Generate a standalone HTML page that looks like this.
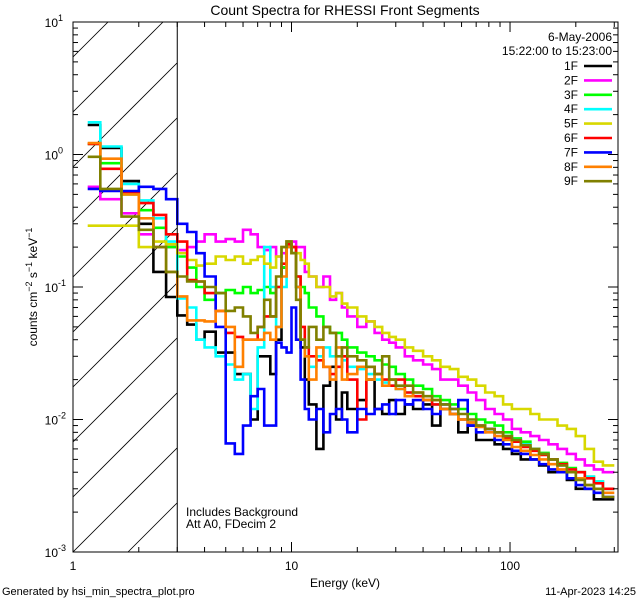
<!DOCTYPE html>
<html><head><meta charset="utf-8"><style>
html,body{margin:0;padding:0;background:#fff;width:640px;height:600px;overflow:hidden}
svg{display:block;font-family:"Liberation Sans",sans-serif;overflow:hidden}
</style></head><body>
<svg id="c" width="640" height="600">
<defs>
<clipPath id="pc"><rect x="73" y="22" width="545" height="530"/></clipPath>
<clipPath id="hc"><rect x="73" y="22" width="104" height="530"/></clipPath>
</defs>
<rect width="640" height="600" fill="#fff"/>
<g id="hatch" clip-path="url(#hc)" stroke="#000" stroke-width="0.8"></g>
<g id="series" clip-path="url(#pc)"></g>
<g id="axes"></g>
<text x="345" y="15" font-size="14" text-anchor="middle">Count Spectra for RHESSI Front Segments</text>
<text x="612" y="41" font-size="12" text-anchor="end">6-May-2006</text>
<text x="612" y="55" font-size="12" text-anchor="end">15:22:00 to 15:23:00</text>
<text x="186" y="516" font-size="12">Includes Background</text>
<text x="186" y="528" font-size="12">Att A0, FDecim 2</text>
<text x="345" y="587" font-size="12" text-anchor="middle">Energy (keV)</text>
<text transform="translate(37,287) rotate(-90)" font-size="12" text-anchor="middle">counts cm<tspan dy="-5" font-size="9">−2</tspan><tspan dy="5"> s</tspan><tspan dy="-5" font-size="9">−1</tspan><tspan dy="5"> keV</tspan><tspan dy="-5" font-size="9">−1</tspan></text>
<text x="2" y="595" font-size="11">Generated by hsi_min_spectra_plot.pro</text>
<text x="636" y="595" font-size="11" text-anchor="end">11-Apr-2023 14:25</text>
<g id="legend"></g>
</svg>
<script>
const energyEdges=[1.167,1.333,1.667,2,2.333,2.667,3,3.333,3.667,4,4.5,5,5.5,6,6.5,7,7.5,8,8.5,9,9.5,10,10.5,11,11.5,12,13,14,15,16,17,18,20,22,24,26,28,30,33,36,40,44,48,53,58,64,70,77,85,93,102,112,124,136,150,165,182,200,220,242,266,300];
const seriesNames=["1F","2F","3F","4F","5F","6F","7F","8F","9F"];
const seriesColors=["#000000","#ff00ff","#00ff00","#00ffff","#d8d800","#ff0000","#0000ff","#ff8000","#808000"];
const s1F=[1.67,1.12,0.63,0.30,0.13,0.084,0.061,0.052,0.04,0.046,0.032,0.032,0.022,0.022,0.01,0.03,0.03,0.022,0.04,0.14,0.22,0.2,0.1,0.035,0.02,0.013,0.006,0.018,0.025,0.01,0.016,0.012,0.014,0.02,0.012,0.011,0.014,0.011,0.013,0.012,0.013,0.009,0.012,0.011,0.008,0.009,0.007,0.007,0.0065,0.006,0.0055,0.005,0.005,0.0045,0.004,0.004,0.0035,0.003,0.003,0.0025,0.0025];
const s2F=[0.57,0.46,0.36,0.25,0.2,0.2,0.19,0.2,0.22,0.25,0.22,0.23,0.22,0.27,0.25,0.2,0.19,0.2,0.17,0.18,0.2,0.22,0.2,0.2,0.13,0.12,0.1,0.12,0.08,0.09,0.07,0.06,0.05,0.055,0.045,0.04,0.038,0.035,0.03,0.028,0.026,0.024,0.02,0.02,0.018,0.016,0.014,0.012,0.011,0.01,0.0085,0.008,0.0075,0.007,0.0065,0.006,0.0055,0.005,0.0045,0.0042,0.004];
const s3F=[1.2,0.86,0.5,0.38,0.28,0.2,0.17,0.14,0.1,0.08,0.09,0.095,0.09,0.1,0.09,0.095,0.1,0.09,0.1,0.14,0.2,0.18,0.12,0.1,0.09,0.07,0.06,0.05,0.045,0.045,0.04,0.035,0.032,0.03,0.028,0.026,0.025,0.022,0.02,0.018,0.017,0.015,0.014,0.013,0.012,0.011,0.01,0.0095,0.009,0.008,0.0072,0.0068,0.006,0.0056,0.005,0.0047,0.0043,0.004,0.0037,0.0034,0.003];
const s4F=[1.75,1.15,0.6,0.45,0.33,0.22,0.082,0.07,0.04,0.035,0.03,0.026,0.02,0.022,0.012,0.035,0.2,0.1,0.05,0.1,0.2,0.18,0.1,0.04,0.03,0.025,0.03,0.035,0.03,0.025,0.028,0.025,0.024,0.022,0.02,0.019,0.018,0.017,0.016,0.015,0.014,0.013,0.012,0.011,0.01,0.0095,0.009,0.0085,0.008,0.0075,0.007,0.0065,0.006,0.0055,0.005,0.0045,0.0042,0.004,0.0037,0.0034,0.003];
const s5F=[0.29,0.29,0.29,0.2,0.22,0.21,0.18,0.16,0.145,0.15,0.17,0.16,0.17,0.15,0.16,0.17,0.15,0.14,0.17,0.2,0.22,0.2,0.18,0.16,0.15,0.12,0.1,0.1,0.085,0.09,0.075,0.07,0.06,0.055,0.05,0.045,0.042,0.04,0.035,0.033,0.03,0.028,0.025,0.024,0.021,0.02,0.018,0.016,0.015,0.013,0.012,0.012,0.011,0.01,0.01,0.009,0.0085,0.0075,0.006,0.0048,0.0045];
const s6F=[1.2,0.78,0.52,0.43,0.35,0.25,0.22,0.113,0.11,0.09,0.066,0.045,0.042,0.04,0.04,0.05,0.06,0.06,0.1,0.15,0.21,0.2,0.12,0.05,0.035,0.03,0.028,0.025,0.022,0.025,0.03,0.02,0.01,0.025,0.022,0.02,0.018,0.02,0.016,0.015,0.014,0.013,0.012,0.011,0.01,0.0095,0.009,0.0085,0.008,0.0072,0.0068,0.0062,0.0058,0.0054,0.005,0.0046,0.0042,0.004,0.0036,0.0033,0.003];
const s7F=[0.55,0.53,0.53,0.57,0.55,0.46,0.3,0.26,0.18,0.12,0.05,0.0066,0.0055,0.009,0.015,0.017,0.009,0.009,0.038,0.035,0.032,0.07,0.04,0.02,0.012,0.01,0.012,0.008,0.011,0.012,0.01,0.008,0.012,0.011,0.012,0.013,0.011,0.014,0.013,0.014,0.012,0.011,0.013,0.012,0.014,0.009,0.008,0.0085,0.007,0.0065,0.0058,0.0055,0.005,0.0046,0.0042,0.004,0.0036,0.0032,0.003,0.0028,0.0026];
const s8F=[1.22,0.93,0.5,0.33,0.2,0.13,0.085,0.056,0.056,0.055,0.066,0.05,0.025,0.04,0.04,0.04,0.045,0.04,0.05,0.12,0.2,0.18,0.1,0.04,0.03,0.02,0.035,0.025,0.02,0.035,0.02,0.022,0.025,0.02,0.022,0.018,0.02,0.017,0.015,0.016,0.014,0.014,0.012,0.011,0.01,0.0095,0.0088,0.008,0.0075,0.007,0.0062,0.0058,0.0054,0.005,0.0046,0.0042,0.004,0.0036,0.0032,0.003,0.0028];
const s9F=[0.96,0.55,0.34,0.27,0.2,0.13,0.12,0.11,0.11,0.1,0.09,0.066,0.07,0.06,0.045,0.05,0.08,0.06,0.12,0.2,0.22,0.18,0.08,0.04,0.035,0.05,0.04,0.05,0.045,0.03,0.035,0.03,0.028,0.025,0.022,0.03,0.02,0.018,0.018,0.016,0.015,0.014,0.013,0.012,0.011,0.01,0.009,0.0085,0.008,0.0075,0.007,0.0064,0.006,0.0055,0.005,0.0045,0.004,0.0035,0.0032,0.003,0.0026];
const seriesData=[s1F,s2F,s3F,s4F,s5F,s6F,s7F,s8F,s9F];
const xTickLabels=["1","10","100"];
const yTickExps=["1","0","-1","-2","-3"];

const L=73,R=618,T=22,B=552,xMin=0,xMax=Math.log10(312);
const X=e=>L+(Math.log10(e)-xMin)/(xMax-xMin)*(R-L);
const Y=v=>T+(1-Math.log10(v))/4*(B-T);
const NS="http://www.w3.org/2000/svg";
function mk(tag,attrs,parent){const el=document.createElementNS(NS,tag);for(const k in attrs)el.setAttribute(k,attrs[k]);parent.appendChild(el);return el;}

const hg=document.getElementById('hatch');
for(let k=-11;k<3;k++){const y0=B+k*55;
 const ln=mk('line',{x1:L,y1:y0,x2:L+104,y2:y0-104},hg);
 
 }
const axg=document.getElementById('axes');
const vl=mk('line',{x1:X(3),y1:T,x2:X(3),y2:B,stroke:'#000','stroke-width':1},axg);



const sg=document.getElementById('series');
seriesData.forEach((vals,i)=>{
 let d='';
 vals.forEach((v,j)=>{const x0=X(energyEdges[j]),x1=X(energyEdges[j+1]),y=Y(v);
  d+=(j===0?'M':'L')+x0.toFixed(1)+','+y.toFixed(1)+'L'+x1.toFixed(1)+','+y.toFixed(1);});
 const p=mk('path',{d:d,fill:'none',stroke:seriesColors[i],'stroke-width':2.6,'stroke-linejoin':'miter'},sg);
 
 
});

const fr=mk('rect',{x:L,y:T,width:R-L,height:B-T,fill:'none',stroke:'#000','stroke-width':1},axg);


for(let dec=0;dec<3;dec++){for(let m=1;m<10;m++){const e=m*Math.pow(10,dec);if(e>312)continue;const x=X(e);const len=m===1?10:5;
 mk('line',{x1:x,y1:B,x2:x,y2:B-len,stroke:'#000'},axg);mk('line',{x1:x,y1:T,x2:x,y2:T+len,stroke:'#000'},axg);}}
xTickLabels.forEach((t,i)=>{const tx=mk('text',{x:X(Math.pow(10,i)),y:570,'font-size':12,'text-anchor':'middle'},axg);tx.textContent=t;
 
 });
for(let dec=-3;dec<1;dec++){for(let m=1;m<10;m++){const v=m*Math.pow(10,dec);const y=Y(v);const len=m===1?10:5;
 mk('line',{x1:L,y1:y,x2:L+len,y2:y,stroke:'#000'},axg);mk('line',{x1:R,y1:y,x2:R-len,y2:y,stroke:'#000'},axg);}}
mk('line',{x1:L,y1:T,x2:L+10,y2:T,stroke:'#000'},axg);
yTickExps.forEach(ex=>{const y=Y(Math.pow(10,+ex));
 const tx=mk('text',{x:58,y:y+5,'font-size':12,'text-anchor':'end'},axg);
 
 
 tx.textContent='10';const ts=mk('tspan',{x:58,dy:-6,'font-size':9,'text-anchor':'start'},tx);ts.textContent=ex;});
const lg=document.getElementById('legend');
seriesNames.forEach((n,i)=>{const y=66+i*14.4;
 const g=mk('g',{},lg);
 
 
 const t=mk('text',{x:578,y:y+4,'font-size':12,'text-anchor':'end'},g);t.textContent=n;
 mk('line',{x1:584,y1:y,x2:612,y2:y,stroke:seriesColors[i],'stroke-width':2.6},g);});
</script>
</body></html>
